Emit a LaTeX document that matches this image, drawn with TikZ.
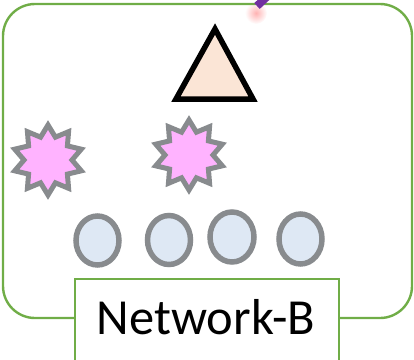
\documentclass[tikz,border=0pt]{standalone}
\usepackage{fontspec}
\setmainfont{Carlito}
\usetikzlibrary{shapes.geometric}
\definecolor{groupgreen}{HTML}{70AD47}
\definecolor{linkpurple}{HTML}{7030A0}
\definecolor{peach}{HTML}{FBE5D6}
\definecolor{starpink}{HTML}{FFB3FF}
\definecolor{hostblue}{HTML}{DEE8F4}
\definecolor{rimgray}{HTML}{888B8E}
\tikzset{
  groupframe/.style={draw=groupgreen, line width=2.4pt, rounded corners=32pt},
  labelbox/.style={draw=groupgreen, line width=2pt, fill=white},
  hostnode/.style={ellipse, draw=rimgray, fill=hostblue, line width=5.5pt,
    inner sep=0pt, minimum width=43pt, minimum height=49pt},
  burst/.style={draw=rimgray, fill=starpink, line width=5pt, line join=miter},
  routertri/.style={draw=black, fill=peach, line width=5.5pt, line join=miter},
}
\begin{document}
\begin{tikzpicture}[x=1pt, y=-1pt]
  \useasboundingbox (0,0) rectangle (414,359);
  \clip (0,0) rectangle (414,359);
  % glow of the incoming link
  \shade[inner color=red!30, outer color=white] (256,13) circle (11);
  % group frame
  \draw[groupframe] (3,4) rectangle (412,318);
  % incoming link (cut by the page edge)
  \coordinate (linkA) at (272,-8);
  \coordinate (linkB) at (257,6);
  \draw[linkpurple, line width=8pt] (linkA) -- (linkB);
  % router triangle
  \draw[routertri] (215,29) -- (253,99) -- (176,99) -- cycle;
  % two bursts
  \foreach \cx/\cy in {48/160, 189/155}{
    \draw[burst] plot[samples at={0,...,19}, variable=\k]
      ({\cx + (mod(\k,2)==0 ? 35 : 24)*cos(90+18*\k)},
       {\cy - (mod(\k,2)==0 ? 35 : 24)*sin(90+18*\k)}) -- cycle;
  }
  % hosts
  \node[hostnode] (h1) at (97.5,240.5) {};
  \node[hostnode] (h2) at (169,240) {};
  \node[hostnode, minimum width=44pt, minimum height=50pt] (h3) at (232,237) {};
  \node[hostnode, minimum height=50pt] (h4) at (300.5,239) {};
  % label
  \node[labelbox, anchor=north west, minimum width=264pt, minimum height=95pt,
        inner sep=0pt] (label) at (74,278) {};
  \node[anchor=base, font=\fontsize{50.5}{52}\selectfont, inner sep=0pt] (labeltext)
    at (206,334) {Network-B};
\end{tikzpicture}
\end{document}
